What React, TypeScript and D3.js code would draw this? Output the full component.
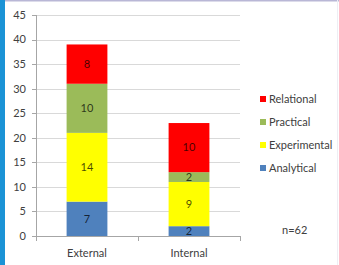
import React from "react";
import * as d3 from "d3";

const categories = ["External", "Internal"];
const seriesNames = ["Analytical", "Experimental", "Practical", "Relational"];
const analytical = [7, 2];
const experimental = [14, 9];
const practical = [10, 2];
const relational = [8, 10];
const seriesColors = ["#4F81BD", "#FFFF00", "#9BBB59", "#FF0000"];
const yTicks = [0, 5, 10, 15, 20, 25, 30, 35, 40, 45];
const note = "n=62";

const W = 339;
const H = 265;

export default function App() {
  const values = [analytical, experimental, practical, relational];
  const rows = categories.map((c, i) => {
    const r: any = { cat: c };
    seriesNames.forEach((s, j) => (r[s] = values[j][i]));
    return r;
  });
  const stacked = d3.stack<any>().keys(seriesNames)(rows);

  const x = d3.scaleBand().domain(categories).range([36, 240]).paddingInner(0.6).paddingOuter(0.3);
  const y = d3.scaleLinear().domain([0, 45]).range([236, 15]);
  const font = "Lato, 'Open Sans', sans-serif";
  const textColor = "#404040";

  const xTickPos = [36, ...categories.map((c) => (x(c)! + x.bandwidth() / 2 + x.step() / 2))];

  return (
    <svg width={W} height={H} style={{ position: "absolute", left: 0, top: 0, background: "#fff" }} fontFamily={font}>
      <rect x={0} y={0} width={W} height={H} fill="#fff" />
      {/* frame */}
      <rect x={0} y={0} width={W} height={1.5} fill="#b9b7d6" />
      <rect x={0} y={0} width={5} height={H} fill="#1b93d6" />
      <rect x={337} y={0} width={1} height={H} fill="#eeeef4" />
      {/* gridlines */}
      {yTicks.slice(1).map((t) => (
        <line key={t} x1={36} x2={240} y1={Math.round(y(t)) + 0.5} y2={Math.round(y(t)) + 0.5} stroke="#d9d9d9" strokeWidth={1} />
      ))}
      {/* y axis */}
      <line x1={36.5} x2={36.5} y1={y(45)} y2={y(0)} stroke="#a6a6a6" />
      {yTicks.map((t) => (
        <g key={t}>
          <line x1={32} x2={36} y1={Math.round(y(t)) + 0.5} y2={Math.round(y(t)) + 0.5} stroke="#a6a6a6" />
          <text x={26} y={y(t)} dy="0.35em" textAnchor="end" fontSize={11} fill={textColor}>
            {t}
          </text>
        </g>
      ))}
      {/* bars */}
      {stacked.map((s, j) => (
        <g key={s.key}>
          {s.map((d, i) => (
            <g key={i}>
              <rect x={x(categories[i])} y={y(d[1])} width={x.bandwidth()} height={y(d[0]) - y(d[1])} fill={seriesColors[j]} />
              <text
                x={x(categories[i])! + x.bandwidth() / 2}
                y={(y(d[0]) + y(d[1])) / 2}
                dy="0.35em"
                textAnchor="middle"
                fontSize={11}
                fill="#000"
                fillOpacity={0.72}
              >
                {values[j][i]}
              </text>
            </g>
          ))}
        </g>
      ))}
      {/* x axis */}
      <line x1={36} x2={240} y1={236.5} y2={236.5} stroke="#a6a6a6" />
      {xTickPos.map((p, i) => (
        <line key={i} x1={Math.round(p) + 0.5} x2={Math.round(p) + 0.5} y1={236} y2={241} stroke="#a6a6a6" />
      ))}
      {categories.map((c) => (
        <text key={c} x={x(c)! + x.bandwidth() / 2} y={253} dy="0.35em" textAnchor="middle" fontSize={11} fill={textColor}>
          {c}
        </text>
      ))}
      {/* legend */}
      {[...seriesNames].reverse().map((s, k) => {
        const j = seriesNames.length - 1 - k;
        const cy = 99 + k * 23;
        return (
          <g key={s}>
            <rect x={260} y={cy - 3} width={6} height={6} fill={seriesColors[j]} />
            <text x={269} y={cy} dy="0.35em" fontSize={11} fill={textColor}>
              {s}
            </text>
          </g>
        );
      })}
      <text x={282} y={230} dy="0.35em" fontSize={11} fill={textColor}>
        {note}
      </text>
    </svg>
  );
}
